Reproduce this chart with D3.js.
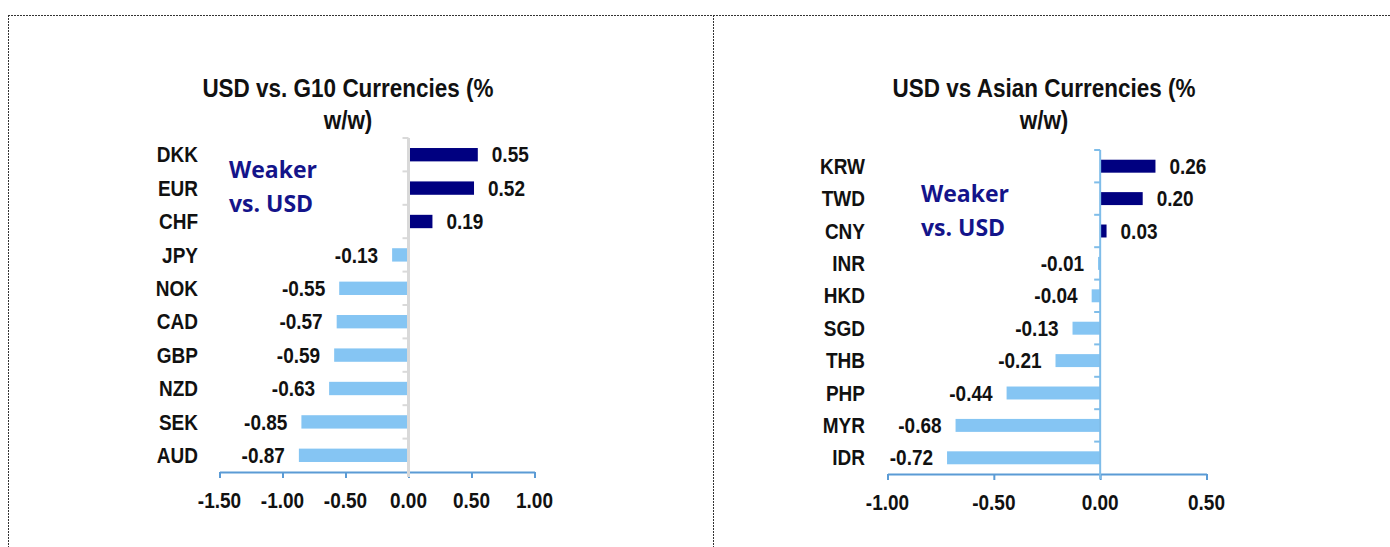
<!DOCTYPE html>
<html lang="en">
	<head>
		<meta charset="utf-8">
		<title>USD vs G10 and Asian currencies</title>
		<script type="text/javascript" src="https://cdn.jsdelivr.net/npm/d3@7"></script>
		<style type="text/css">
			body { margin: 0; background: #fff; }
			text { font-family: "Liberation Sans", Arial, sans-serif; font-weight: bold; fill: #111; }
			.note { font-family: "Open Sans", sans-serif; fill: #14148a; font-size: 23px; }
		</style>
	</head>
	<body>
		<script type="text/javascript">

			//Data
			let g10Currencies = ["DKK", "EUR", "CHF", "JPY", "NOK", "CAD", "GBP", "NZD", "SEK", "AUD"];
			let g10Values = [0.55, 0.52, 0.19, -0.13, -0.55, -0.57, -0.59, -0.63, -0.85, -0.87];
			let g10Ticks = [-1.5, -1.0, -0.5, 0, 0.5, 1.0];

			let asiaCurrencies = ["KRW", "TWD", "CNY", "INR", "HKD", "SGD", "THB", "PHP", "MYR", "IDR"];
			let asiaValues = [0.26, 0.20, 0.03, -0.01, -0.04, -0.13, -0.21, -0.44, -0.68, -0.72];
			let asiaTicks = [-1.0, -0.5, 0, 0.5];

			let w = 1390;
			let h = 547;
			//plain hyphen for the minus sign, as in the original
			let fmt = d => d3.format(".2f")(d).replace("\u2212", "-");

			let svg = d3.select("body")
						.append("svg")
						  .attr("width", w)
						  .attr("height", h);

			//Dotted frame
			svg.append("line").attr("x1", 8).attr("x2", w).attr("y1", 15.5).attr("y2", 15.5);
			svg.append("line").attr("x1", 8.5).attr("x2", 8.5).attr("y1", 15).attr("y2", h);
			svg.append("line").attr("x1", 713.5).attr("x2", 713.5).attr("y1", 15).attr("y2", h);
			svg.selectAll("line")
			      .attr("stroke", "#333")
			      .attr("stroke-width", 1)
			      .attr("stroke-dasharray", "2,1");

			//Text that is a little taller than wide, like the original
			function label(g, x, y, str, size, anchor) {
				return g.append("text")
				      .attr("transform", `translate(${x},${y}) scale(1,1.15)`)
				      .attr("text-anchor", anchor)
				      .attr("dy", "0.35em")
				      .style("font-size", size + "px")
				      .text(str);
			}

			function drawChart(opt) {
				let g = svg.append("g");

				let x = d3.scaleLinear()
							.domain(opt.domain)
							.range([opt.left, opt.right]);

				let y = d3.scaleBand()
							.domain(opt.cats)
							.range([opt.top, opt.bottom])
							.paddingInner(0.6)
							.paddingOuter(0.3);

				//Title
				label(g, opt.titleX, 88, opt.title[0], 22.5, "middle");
				label(g, opt.titleX, 120, opt.title[1], 22.5, "middle");

				//Bars
				g.selectAll("rect.bar")
				    .data(opt.values)
				    .enter()
				  .append("rect")
				    .attr("class", "bar")
				    .attr("x", d => x(Math.min(0, d)))
				    .attr("y", (d, i) => y(opt.cats[i]))
				    .attr("width", d => Math.max(1, Math.abs(x(d) - x(0))))
				    .attr("height", y.bandwidth())
				    .attr("fill", d => d >= 0 ? "#000080" : "#85c5f3");

				//Value labels
				opt.values.forEach((d, i) => {
					let cy = y(opt.cats[i]) + y.bandwidth() / 2;
					if (d >= 0) label(g, x(d) + 14, cy, fmt(d), 19, "start");
					else label(g, x(d) - 14, cy, fmt(d), 19, "end");
				});

				//Category labels
				opt.cats.forEach(c => {
					label(g, opt.catX, y(c) + y.bandwidth() / 2, c, 19, "end");
				});

				//Horizontal axis
				let axis = g.append("g")
				    .attr("transform", `translate(0,${opt.bottom})`)
				    .call(d3.axisBottom(x)
				            .tickValues(opt.ticks)
				            .tickSize(6)
				            .tickSizeOuter(0)
				            .tickFormat(""));
				axis.selectAll("path, line")
				    .attr("stroke", "#5b9bd5")
				    .attr("stroke-width", 2);
				opt.ticks.forEach(t => label(g, x(t), opt.bottom + 28, fmt(t), 19, "middle"));

				//Zero axis with ticks between categories
				let bounds = d3.range(opt.cats.length + 1).map(k => opt.top + k * y.step());
				g.selectAll("line.tick-y")
				    .data(bounds.slice(0, -1))
				    .enter()
				  .append("line")
				    .attr("x1", x(0) - 6)
				    .attr("x2", x(0))
				    .attr("y1", d => d)
				    .attr("y2", d => d)
				    .attr("stroke", opt.zeroColor)
				    .attr("stroke-width", 2);
				g.append("line")
				    .attr("x1", x(0))
				    .attr("x2", x(0))
				    .attr("y1", opt.top)
				    .attr("y2", opt.bottom + 5)
				    .attr("stroke", opt.zeroColor)
				    .attr("stroke-width", opt.zeroWidth);

				//Note
				let note = g.append("text")
				    .attr("class", "note")
				    .attr("x", opt.noteX)
				    .attr("y", opt.noteY);
				note.append("tspan").attr("x", opt.noteX).text("Weaker");
				note.append("tspan").attr("x", opt.noteX).attr("dy", 34).text("vs. USD");
			}

			drawChart({
				title: ["USD vs. G10 Currencies (%", "w/w)"],
				titleX: 348,
				cats: g10Currencies,
				values: g10Values,
				ticks: g10Ticks,
				domain: [-1.5, 1.0],
				left: 219.5,
				right: 534.5,
				top: 138,
				bottom: 472,
				catX: 198,
				zeroColor: "#d9d9d9",
				zeroWidth: 3,
				noteX: 229,
				noteY: 178
			});

			drawChart({
				title: ["USD vs Asian Currencies (%", "w/w)"],
				titleX: 1044,
				cats: asiaCurrencies,
				values: asiaValues,
				ticks: asiaTicks,
				domain: [-1.0, 0.5],
				left: 887.5,
				right: 1206.5,
				top: 150,
				bottom: 474,
				catX: 865,
				zeroColor: "#7fbde9",
				zeroWidth: 2,
				noteX: 921,
				noteY: 202
			});

		</script>
	</body>
</html>
